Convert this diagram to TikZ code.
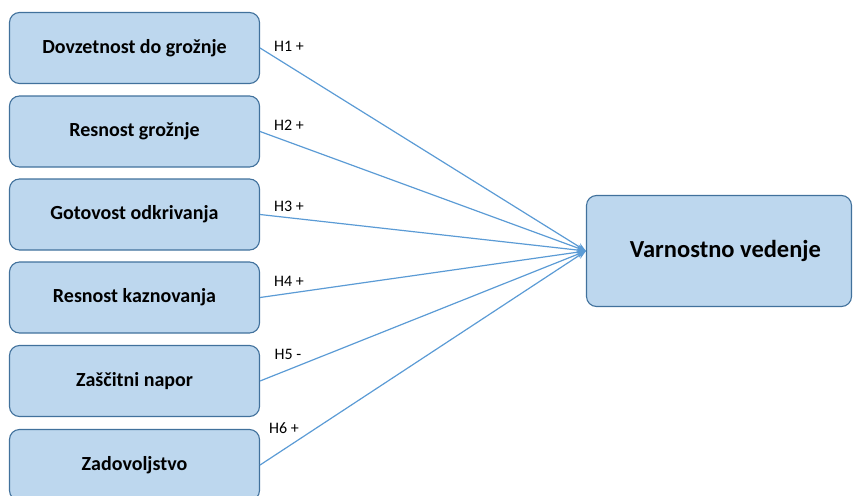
\documentclass[tikz,border=0pt]{standalone}
\usepackage{fontspec}
\setmainfont{Carlito}
\usetikzlibrary{arrows.meta}
\definecolor{boxfill}{RGB}{189,215,238}
\definecolor{boxline}{RGB}{65,113,156}
\definecolor{arrline}{RGB}{91,155,213}
\tikzset{
  factor/.style={draw=boxline, fill=boxfill, line width=1.1pt, rounded corners=10pt,
    minimum width=250pt, minimum height=71pt, inner sep=0pt,
    font=\fontsize{20}{24}\selectfont\bfseries},
  outcome/.style={factor, minimum width=265pt, minimum height=111pt,
    font=\fontsize{24.5}{29}\selectfont\bfseries},
  hyp/.style={font=\fontsize{16}{19}\selectfont, inner sep=0pt},
  conn/.style={draw=arrline, line width=1.2pt, -{Stealth[length=9pt,width=7pt]}}
}

\begin{document}
\begin{tikzpicture}[x=1pt,y=-1pt]
\useasboundingbox (0,0) rectangle (853,495);
\clip (0,0) rectangle (853,495);
\draw(134.5,48) node[factor] (f1) {Dovzetnost do grožnje};
\draw(134.5,131.5) node[factor] (f2) {Resnost grožnje};
\draw(134.5,214.5) node[factor] (f3) {Gotovost odkrivanja};
\draw(134.5,297.5) node[factor] (f4) {Resnost kaznovanja};
\draw(134.5,381) node[factor] (f5) {Zaščitni napor};
\draw(134.5,465) node[factor] (f6) {Zadovoljstvo};
\draw(719,251) node[outcome] (out) {\hspace{13pt}Varnostno vedenje};
% hypotheses
\draw(289,46) node[hyp] (h1) {H1 +};
\draw(289,125) node[hyp] (h2) {H2 +};
\draw(289,206) node[hyp] (h3) {H3 +};
\draw(289,281) node[hyp] (h4) {H4 +};
\draw(288,354) node[hyp] (h5) {H5 -};
\draw(284,428) node[hyp] (h6) {H6 +};
\foreach \i in {1,...,6}
  \draw[conn] (f\i.east) -- (out.west);
\end{tikzpicture}
\end{document}
